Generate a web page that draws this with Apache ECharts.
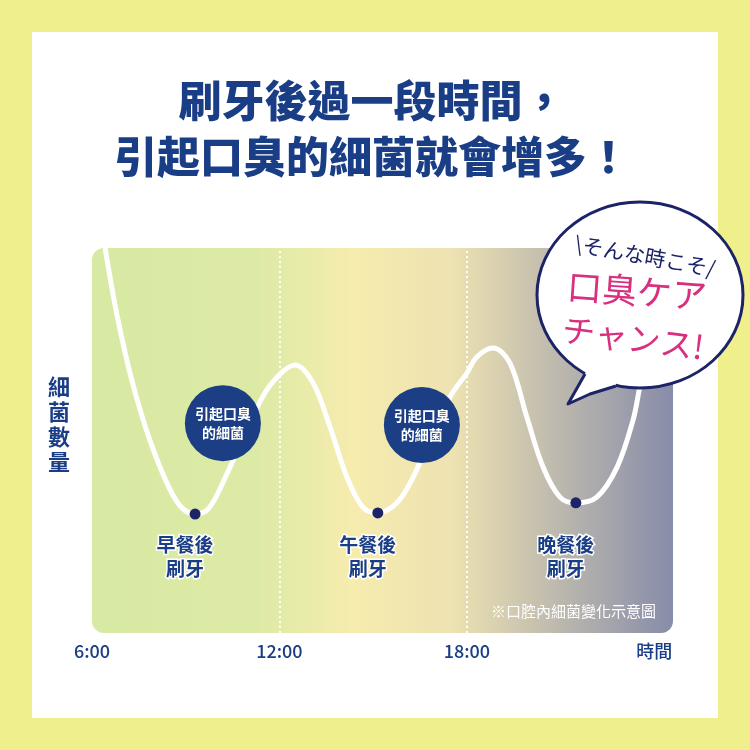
<!DOCTYPE html>
<html><head><meta charset="utf-8">
<script src="https://cdn.jsdelivr.net/npm/echarts@6/dist/echarts.min.js"></script>
<style>html,body{margin:0;padding:0;background:#eff08c}#c{width:750px;height:750px}</style>
</head><body><div id="c"></div>
<script>
// ---- data ----
const curveHours = [6.42, 6.80, 7.28, 7.86, 8.47, 8.88, 9.30, 9.75, 10.26, 11.44, 11.99, 12.50, 13.08, 13.62, 14.16, 14.67, 15.15, 15.76, 16.28, 17.46, 18.00, 18.32, 18.84, 19.38, 19.92, 20.44, 20.98, 21.49, 22.16, 22.81, 23.32, 23.54, 23.86];
const curveValues = [100, 82.6, 65.5, 49.9, 37.7, 32.5, 30.9, 32.5, 40.3, 61.0, 67.0, 69.6, 64.9, 53.5, 40.5, 32.7, 31.2, 33.8, 40.5, 61.3, 67.5, 71.7, 74.0, 70.1, 56.1, 43.1, 35.3, 33.8, 35.3, 43.1, 55.3, 64.0, 76.0];
const brushHours = [9.30, 15.15, 21.49];
const brushValues = [30.9, 31.2, 33.8];
const brushLabels = ['早餐後\n刷牙', '午餐後\n刷牙', '晚餐後\n刷牙'];
const noteHours = [10.19, 16.56];
const noteValues = [54.5, 54.0];
const noteText = '引起口臭\n的細菌';
const tickHours = [6, 12, 18, 24];
const tickLabels = ['6:00', '12:00', '18:00', '時間'];
const dividerHours = [12, 18];
const titleText = '刷牙後過一段時間，\n引起口臭的細菌就會增多！';
const yName = '細\n菌\n數\n量';
const footnote = '※口腔內細菌變化示意圖';
const bubbleLine1 = '\\そんな時こそ/';
const bubbleLine2 = '口臭ケア';
const bubbleLine3 = 'チャンス!';

const NAVY = '#1a3e86';
const DARK = '#1c2366';
const PINK = '#d8307f';
const FONT = '"Noto Sans CJK TC","Noto Sans CJK SC",sans-serif';
const labelAnchor = Math.min(...brushValues);

const chart = echarts.init(document.getElementById('c'));
chart.setOption({
  backgroundColor: '#eff08c',
  animation: false,
  grid: {left: 92, right: 77, top: 248, bottom: 117},
  xAxis: {
    type: 'value', min: 6, max: 24.6, interval: 6,
    axisLine: {show: false}, axisTick: {show: false}, splitLine: {show: false},
    axisLabel: {
      margin: 9, fontSize: 18, color: NAVY, fontFamily: FONT, fontWeight: 500,
      formatter: v => { const i = tickHours.indexOf(v); return i >= 0 ? tickLabels[i] : ''; }
    }
  },
  yAxis: {type: 'value', min: 0, max: 100, show: false},
  graphic: [
    {type: 'rect', z: -10, shape: {x: 32, y: 32, width: 686, height: 686}, style: {fill: '#ffffff'}},
    {type: 'rect', z: -5, shape: {x: 92, y: 248, width: 581, height: 385, r: 12},
      style: {fill: {type: 'linear', x: 0, y: 0, x2: 1, y2: 0, colorStops: [
        {offset: 0, color: '#d8e9a3'}, {offset: 0.28, color: '#dceaa5'},
        {offset: 0.45, color: '#f6ecae'}, {offset: 0.62, color: '#ede2b1'},
        {offset: 0.8, color: '#bdb9ae'}, {offset: 1, color: '#878ca9'}]}}},
    {type: 'text', z: 5, style: {text: titleText, x: 372, y: 73, textAlign: 'center', textVerticalAlign: 'top',
      fill: NAVY, font: '900 43px ' + FONT, lineHeight: 56}},
    {type: 'text', z: 5, style: {text: yName, x: 59, y: 374, textAlign: 'center', textVerticalAlign: 'top',
      fill: NAVY, font: 'bold 22px ' + FONT, lineHeight: 25}},
    {type: 'text', z: 5, style: {text: footnote, x: 656, y: 611, textAlign: 'right', textVerticalAlign: 'middle',
      fill: '#ffffff', font: '15px ' + FONT}},
    {type: 'ellipse', z: 50, shape: {cx: 640, cy: 295, rx: 103, ry: 93},
      style: {fill: '#ffffff', stroke: DARK, lineWidth: 3}},
    {type: 'polygon', z: 51, shape: {points: [[585, 374], [568, 404], [590, 394], [616, 386], [616, 376], [588, 366]]},
      style: {fill: '#ffffff'}},
    {type: 'polyline', z: 52, shape: {points: [[585, 374], [568, 404], [590, 394], [616, 386]]},
      style: {stroke: DARK, lineWidth: 3, fill: null, lineJoin: 'round'}},
    {type: 'text', z: 53, x: 645, y: 256, rotation: -0.18, style: {text: bubbleLine1, x: 0, y: 0, textAlign: 'center', textVerticalAlign: 'middle',
      fill: DARK, font: '21px ' + FONT}},
    {type: 'text', z: 53, x: 637, y: 291, rotation: -0.07, style: {text: bubbleLine2, x: 0, y: 0, textAlign: 'center', textVerticalAlign: 'middle',
      fill: PINK, font: '35px ' + FONT}},
    {type: 'text', z: 53, x: 633, y: 338, rotation: -0.13, style: {text: bubbleLine3, x: 0, y: 0, textAlign: 'center', textVerticalAlign: 'middle',
      fill: PINK, font: '33px ' + FONT}}
  ],
  series: [
    {
      type: 'line', z: 2, smooth: 0.35, symbol: 'none', clip: true,
      data: curveHours.map((h, i) => [h, curveValues[i]]),
      lineStyle: {color: '#ffffff', width: 5},
      markLine: {
        silent: true, symbol: 'none', label: {show: false},
        lineStyle: {color: '#ffffff', type: [2, 3], width: 2, opacity: 0.95},
        data: dividerHours.map(h => ({xAxis: h}))
      }
    },
    {
      type: 'scatter', z: 3, symbolSize: 76,
      data: noteHours.map((h, i) => [h, noteValues[i]]),
      itemStyle: {color: '#1b3e84', opacity: 1},
      label: {show: true, position: 'inside', formatter: noteText, color: '#ffffff',
        fontSize: 14, fontWeight: 'bold', lineHeight: 19, fontFamily: FONT}
    },
    {
      type: 'scatter', z: 4, symbolSize: 11,
      data: brushHours.map((h, i) => [h, brushValues[i]]),
      itemStyle: {color: DARK, opacity: 1}
    },
    {
      type: 'scatter', z: 4, symbolSize: 2, silent: true,
      data: brushHours.map(h => [h, labelAnchor]),
      itemStyle: {color: 'rgba(0,0,0,0)', opacity: 1},
      label: {show: true, position: 'bottom', distance: 18, offset: [-10, 0],
        formatter: p => brushLabels[p.dataIndex], color: NAVY, fontSize: 19, fontWeight: 'bold',
        lineHeight: 24, fontFamily: FONT, textBorderColor: '#ffffff', textBorderWidth: 3}
    }
  ]
});
</script></body></html>
